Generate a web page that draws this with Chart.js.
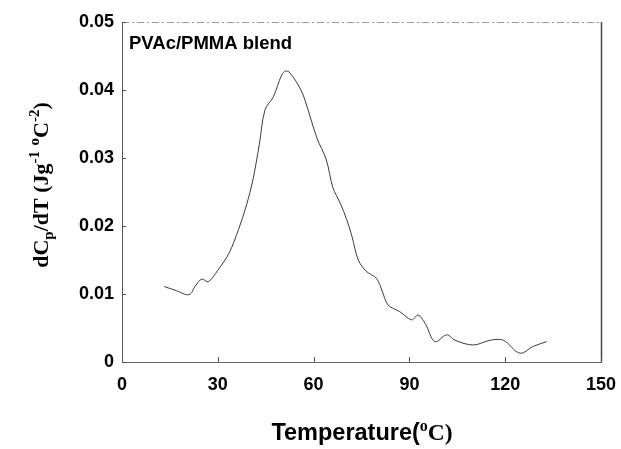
<!DOCTYPE html>
<html>
<head>
<meta charset="utf-8">
<script src="https://cdn.jsdelivr.net/npm/chart.js@4/dist/chart.umd.min.js"></script>
<style>
  body { margin: 0; background: #fff; }
  #wrap { width: 621px; height: 449px; }
</style>
</head>
<body>
<div id="wrap"><canvas id="canvas" width="621" height="449"></canvas></div>
<script>
const temps = [13.2, 17, 21, 23, 25, 27, 30, 33.5, 36.5, 39, 41, 43, 44.8, 47.4, 50, 51.3, 52.6, 55.7, 57.3, 61, 64, 66, 68.3, 70.4, 72, 74, 76.6, 79.7, 81.5, 83.3, 87, 90.7, 92.7, 94.9, 98, 101.7, 104.3, 110, 115.3, 119.4, 124.6, 128.8, 133];
const dcp = [0.0111, 0.0105, 0.0099, 0.0112, 0.0122, 0.0118, 0.0135, 0.016, 0.0195, 0.0231, 0.0268, 0.032, 0.0371, 0.039, 0.0422, 0.0428, 0.0425, 0.0403, 0.0385, 0.033, 0.0297, 0.0257, 0.0234, 0.0209, 0.0185, 0.015, 0.0133, 0.0123, 0.0104, 0.0084, 0.0074, 0.0062, 0.0069, 0.0057, 0.003, 0.004, 0.0032, 0.0025, 0.0032, 0.0032, 0.0013, 0.0023, 0.003];
const xTicks = [0, 30, 60, 90, 120, 150];
const yTicks = [0, 0.01, 0.02, 0.03, 0.04, 0.05];

const points = temps.map(function(t, i) { return { x: t, y: dcp[i] }; });

// frame, inward tick marks, panel label and axis titles with sub/superscripts
const extras = {
  id: 'extras',
  afterDraw: function(chart) {
    const c = chart.ctx;
    const area = chart.chartArea;
    const xs = chart.scales.x;
    const ys = chart.scales.y;

    c.save();
    c.lineWidth = 1;
    c.strokeStyle = '#9a9a9a';
    c.setLineDash([7, 3, 2, 3]);
    c.beginPath();
    c.moveTo(area.left, area.top + 0.5);
    c.lineTo(area.right, area.top + 0.5);
    c.stroke();
    c.setLineDash([]);
    c.strokeStyle = '#444';
    c.lineWidth = 1.5;
    c.beginPath();
    c.moveTo(area.right + 0.5, area.top);
    c.lineTo(area.right + 0.5, area.bottom);
    c.stroke();

    c.lineWidth = 1;
    c.strokeStyle = '#555';
    c.beginPath();
    xTicks.forEach(function(v) {
      const px = Math.round(xs.getPixelForValue(v)) + 0.5;
      c.moveTo(px, area.bottom);
      c.lineTo(px, area.bottom - 5);
    });
    yTicks.forEach(function(v) {
      const py = Math.round(ys.getPixelForValue(v)) + 0.5;
      c.moveTo(area.left, py);
      c.lineTo(area.left + 4, py);
    });
    c.stroke();

    c.fillStyle = '#000';
    c.textBaseline = 'alphabetic';
    c.font = 'bold 18.5px "Liberation Sans", Arial, sans-serif';
    c.fillText('PVAc/PMMA blend', 129, 49);

    function runs(parts, x, y) {
      parts.forEach(function(p) {
        c.font = p.font;
        c.fillText(p.t, x, y + (p.dy || 0));
        x += c.measureText(p.t).width;
      });
    }
    function width(parts) {
      let w = 0;
      parts.forEach(function(p) { c.font = p.font; w += c.measureText(p.t).width; });
      return w;
    }
    const xParts = [
      { t: 'Temperature(', font: 'bold 23.5px "Liberation Sans", Arial, sans-serif' },
      { t: 'o', font: 'bold 16px "Liberation Serif", serif', dy: -9 },
      { t: 'C)', font: 'bold 23.5px "Liberation Serif", serif' }
    ];
    const xw = width(xParts);
    runs(xParts, 362 - xw / 2, 440);

    const big = 'bold 22px "Liberation Serif", "Times New Roman", serif';
    const small = 'bold 15px "Liberation Serif", "Times New Roman", serif';
    const yParts = [
      { t: 'dC', font: big },
      { t: 'p', font: small, dy: 5 },
      { t: '/dT (Jg', font: big },
      { t: '-1', font: small, dy: -9 },
      { t: ' ', font: big },
      { t: 'o', font: small, dy: -9 },
      { t: 'C', font: big },
      { t: '-2', font: small, dy: -9 },
      { t: ')', font: big }
    ];
    const yw = width(yParts);
    c.translate(48, 185);
    c.rotate(-Math.PI / 2);
    runs(yParts, -yw / 2, 0);
    c.restore();
  }
};

new Chart(document.getElementById('canvas'), {
  type: 'line',
  data: {
    datasets: [{
      data: points,
      borderColor: '#3a3a3a',
      borderWidth: 1,
      pointRadius: 0,
      tension: 0.35,
      fill: false
    }]
  },
  options: {
    responsive: false,
    animation: false,
    layout: { padding: { top: 22, right: 20, left: 0, bottom: 0 } },
    plugins: {
      legend: { display: false },
      tooltip: { enabled: false }
    },
    scales: {
      x: {
        type: 'linear',
        min: 0,
        max: 150,
        afterBuildTicks: function(scale) {
          scale.ticks = xTicks.map(function(v) { return { value: v }; });
        },
        afterFit: function(scale) {
          scale.height = 87;
          scale.paddingLeft = 0;
          scale.paddingRight = 0;
        },
        grid: { display: false, drawTicks: false },
        border: { display: true, color: '#666', width: 1 },
        ticks: {
          color: '#000',
          padding: 12,
          maxRotation: 0,
          font: { family: '"Liberation Sans", Arial, sans-serif', size: 18, weight: 'bold' }
        }
      },
      y: {
        min: 0,
        max: 0.05,
        afterBuildTicks: function(scale) {
          scale.ticks = yTicks.map(function(v) { return { value: v }; });
        },
        afterFit: function(scale) {
          scale.width = 122;
          scale.paddingTop = 0;
          scale.paddingBottom = 0;
        },
        grid: { display: false, drawTicks: false },
        border: { display: true, color: '#555', width: 1 },
        ticks: {
          color: '#000',
          padding: 8,
          callback: function(v) { return v === 0 ? '0' : v.toFixed(2); },
          font: { family: '"Liberation Sans", Arial, sans-serif', size: 18, weight: 'bold' }
        }
      }
    }
  },
  plugins: [extras]
});
</script>
</body>
</html>
